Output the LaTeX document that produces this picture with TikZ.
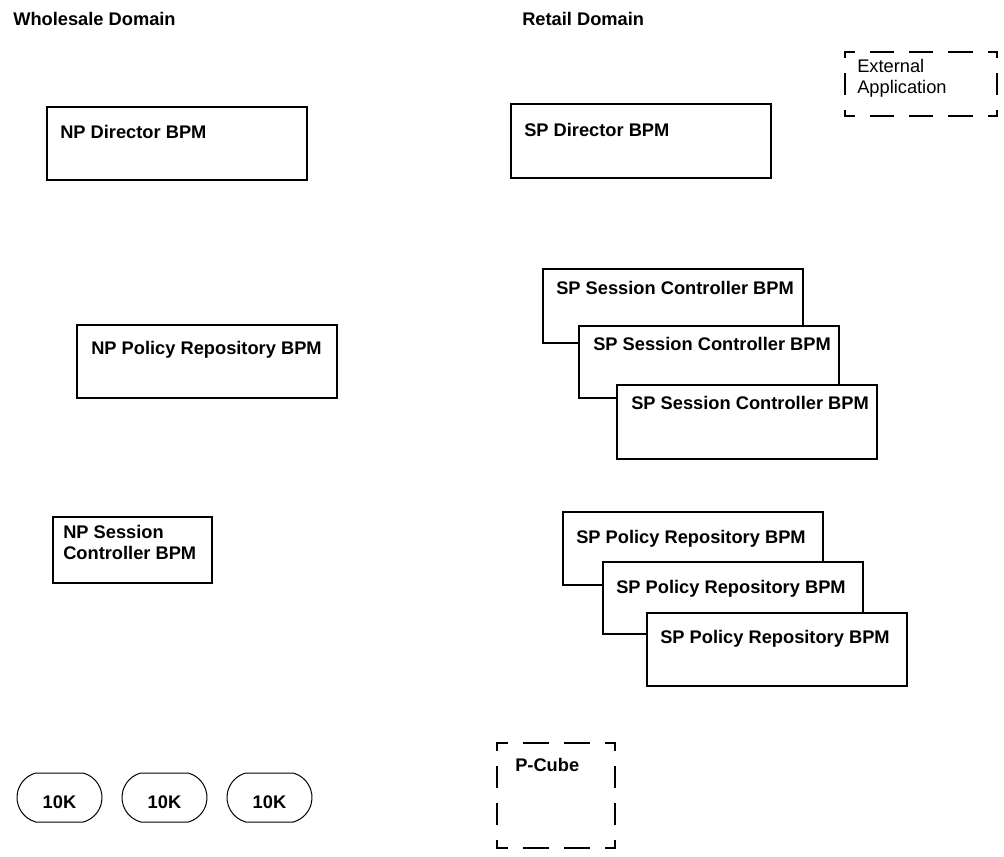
\documentclass[tikz,border=0pt]{standalone}
\usepackage{fontspec}
\usetikzlibrary{shapes.misc}
\setmainfont{Liberation Sans}
\newcommand\dfs{\fontsize{13.7}{15.75}\selectfont}
\begin{document}
\begin{tikzpicture}[x=0.75pt,y=-0.75pt,
  box/.style={draw, line width=1.5pt, fill=white, anchor=north west, inner sep=0pt, outer sep=0pt, minimum width=195pt},
  frame/.style={anchor=north west, inner sep=0pt, outer sep=0pt},
  lbl/.style={anchor=base west, inner sep=0pt, font=\dfs\bfseries, align=left},
  plain/.style={anchor=base west, inner sep=0pt, font=\dfs, align=left},
  pill/.style={draw, line width=0.75pt, rounded rectangle, rounded rectangle arc length=150, minimum width=63.75pt, minimum height=36.75pt, inner sep=0pt, font=\dfs\bfseries, text height=15.75pt, text depth=0pt},
  dline/.style={line width=1.5pt, line cap=rect},
  pch/.style={dline, dash pattern=on 18pt off 12.75pt, dash phase=10.875pt},
  pcv/.style={dline, dash pattern=on 15pt off 12.75pt, dash phase=9.75pt},
  exh/.style={dline, dash pattern=on 16.75pt off 12.75pt, dash phase=10.375pt},
  exv/.style={dline, dash pattern=on 15pt off 12.75pt, dash phase=11.25pt}]
\useasboundingbox (0,0) rectangle (1004,857);

% headings
\node[lbl] (whd) at (13,25) {Wholesale Domain};
\node[lbl] (rtd) at (522,25) {Retail Domain};

% wholesale boxes
\node[box, minimum height=54.75pt] (npdir) at (47,107) {};
\node[lbl] (npdirt) at (60,138) {NP Director BPM};
\node[box, minimum height=54.75pt] (nppol) at (77,325) {};
\node[lbl] (nppolt) at (91,354) {NP Policy Repository BPM};
\node[box, minimum width=119.25pt, minimum height=49.5pt] (npses) at (53,517) {};
\node[lbl] (npsest) at (63,559) {NP Session\\Controller BPM};

% retail boxes
\node[box, minimum height=55.5pt] (spdir) at (511,104) {};
\node[lbl] (spdirt) at (524,136) {SP Director BPM};

\node[box, minimum height=55.5pt] (spses1) at (543,269) {};
\node[lbl] (spses1t) at (556,294) {SP Session Controller BPM};
\node[box, minimum height=54pt] (spses2) at (579,326) {};
\node[lbl] (spses2t) at (593,350) {SP Session Controller BPM};
\node[box, minimum height=55.5pt] (spses3) at (617,385) {};
\node[lbl] (spses3t) at (631,409) {SP Session Controller BPM};

\node[box, minimum height=54.75pt] (sppol1) at (563,512) {};
\node[lbl] (sppol1t) at (576,543) {SP Policy Repository BPM};
\node[box, minimum height=54pt] (sppol2) at (603,562) {};
\node[lbl] (sppol2t) at (616,593) {SP Policy Repository BPM};
\node[box, minimum height=54.75pt] (sppol3) at (647,613) {};
\node[lbl] (sppol3t) at (660,643) {SP Policy Repository BPM};

% external application (dashed)
\node[frame, minimum width=114pt, minimum height=48pt] (ext) at (845,52) {};
\draw[exh] (ext.north west) -- (ext.north east);
\draw[exh] (ext.south west) -- (ext.south east);
\draw[exv] (ext.north west) -- (ext.south west);
\draw[exv] (ext.north east) -- (ext.south east);
\node[plain] (extt) at (857,93) {External\\Application};

% P-Cube (dashed)
\node[frame, minimum width=88.5pt, minimum height=78.75pt] (pcube) at (497,743) {};
\draw[pch] (pcube.north west) -- (pcube.north east);
\draw[pch] (pcube.south west) -- (pcube.south east);
\draw[pcv] (pcube.north west) -- (pcube.south west);
\draw[pcv] (pcube.north east) -- (pcube.south east);
\node[lbl] (pcubet) at (515,771) {P-Cube};

% 10K pills
\node[pill] (k1) at (59.5,797.5) {10K};
\node[pill] (k2) at (164.5,797.5) {10K};
\node[pill] (k3) at (269.5,797.5) {10K};
\end{tikzpicture}
\end{document}
